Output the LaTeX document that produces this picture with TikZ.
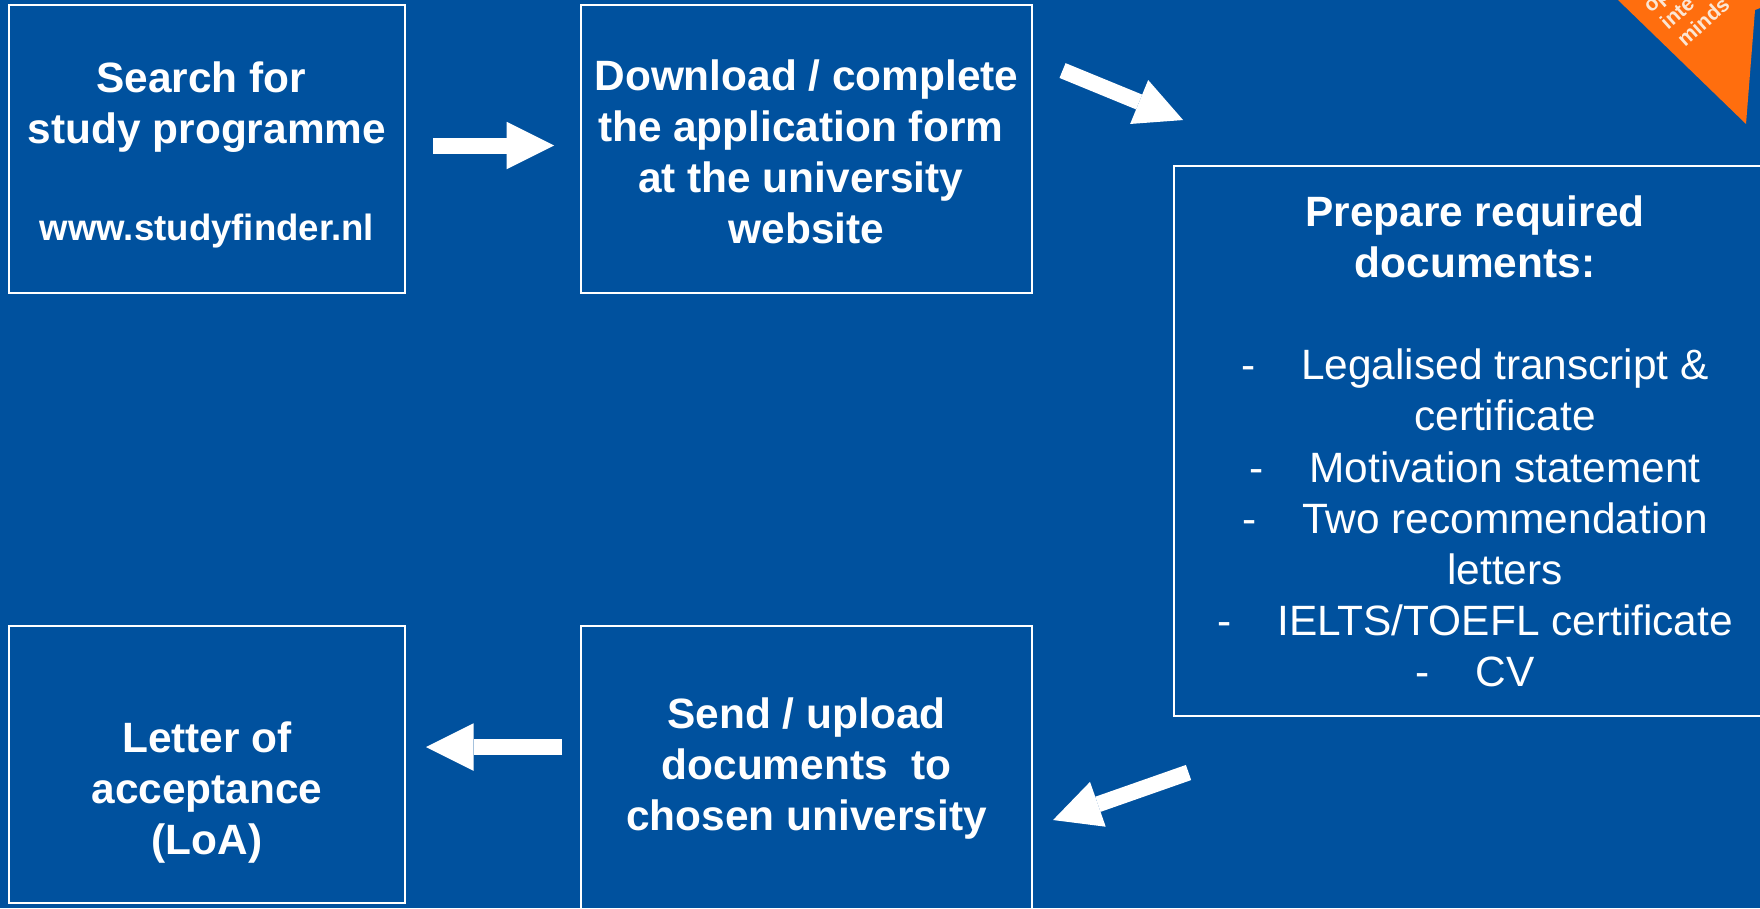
\documentclass[tikz,border=0pt]{standalone}
\usepackage{fontspec}
\setmainfont{Liberation Sans}
\usetikzlibrary{arrows.meta}
\definecolor{bgblue}{HTML}{00519E}
\definecolor{badgeorange}{HTML}{FF6E0E}
\definecolor{badgetext}{HTML}{FBE6D4}
% #1 width, #2 height, #3 first baseline below the top edge, #4 content
\newcommand{\boxtext}[4]{\parbox[c][#2pt][t]{#1pt}{\centering\fontsize{42.4}{51.2}\selectfont
  \vspace*{\dimexpr#3pt-35.84pt\relax}\strut#4\par}}
\newcommand{\dashitem}{\makebox[60pt][l]{-}}
\newcommand{\hangitem}{\hspace*{60pt}}
\newcommand{\trailspace}{\kern11.8pt}
\tikzset{
  x=1pt,y=-1pt,
  stepbox/.style={draw=white,line width=1.6pt,inner sep=0pt,outer sep=0pt,text=white,anchor=center},
  blockarrow/.style={draw=white,line width=16pt,
    -{Triangle[length=47.5pt,width=47.5pt,line width=0pt,fill=white]}},
  badgelabel/.style={text=badgetext,font=\bfseries\fontsize{21}{21}\selectfont,rotate=42,anchor=base west,inner sep=0pt}
}
\begin{document}
\begin{tikzpicture}
\useasboundingbox (0,0) rectangle (1760,908);
\fill[bgblue] (0,0) rectangle (1760,908);

% badge
\fill[badgeorange] (1618,0) -- (1746,124) -- (1755,10) -- (1760,8) -- (1760,0) -- cycle;
\begin{scope}
\clip (1618,0) -- (1746,124) -- (1755,10) -- (1760,8) -- (1760,0) -- cycle;
\node[badgelabel] (badge1) at (1651,14) {op};
\node[badgelabel] (badge2) at (1668,31) {inte};
\node[badgelabel] (badge3) at (1685,48) {minds};
\end{scope}

% boxes
\node[stepbox] (b1) at (207,149) {\boxtext{396}{288}{87}{\bfseries Search for\trailspace\\study programme\par\vspace{45.8pt}\fontsize{36.6}{51.2}\selectfont www.studyfinder.nl}};
\node[stepbox] (b2) at (806.5,149) {\boxtext{451}{288}{85}{\bfseries Download / complete\\the application form\trailspace\\at the university\trailspace\\website}};
\node[stepbox] (b3) at (1475,441) {\boxtext{602}{550}{60}{{\bfseries Prepare required\\documents:}\\\mbox{}\\\dashitem Legalised transcript \&\\\hangitem certificate\\\dashitem Motivation statement\\\dashitem Two recommendation\\\hangitem letters\\\dashitem IELTS/TOEFL certificate\\\dashitem CV}};
\node[stepbox] (b4) at (207,764.5) {\boxtext{396}{277}{126.5}{\bfseries Letter of\\acceptance\\(LoA)}};
\node[stepbox] (b5) at (806.5,770) {\boxtext{451}{288}{102.5}{\bfseries Send / upload\\documents\ \ to\\chosen university}};

% connectors
\draw[blockarrow,shorten <=28pt,shorten >=27pt] ([yshift=3.5pt]b1.east) -- ([yshift=3.5pt]b2.west);
\draw[blockarrow,shorten <=33pt,shorten >=121pt] ([yshift=91pt]b2.east) -- ([xshift=121pt]b3.north west);
\draw[blockarrow,shorten <=170.7pt,shorten >=22.3pt] ([xshift=175.6pt]b3.south west) -- ([yshift=-57.4pt]b5.east);
\draw[blockarrow,shorten <=19pt,shorten >=21pt] ([yshift=23pt]b5.west) -- ([yshift=23pt]b5.west -| b4.east);
\end{tikzpicture}
\end{document}
